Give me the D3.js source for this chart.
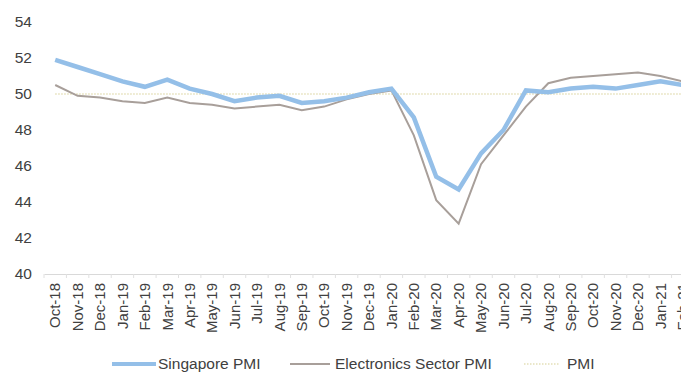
<!DOCTYPE html>
<html>
<head>
<meta charset="utf-8">
<script src="https://cdn.jsdelivr.net/npm/d3@7"></script>
<style>
  body { margin: 0; background: #fff; }
  svg { font-family: "Liberation Sans", Arial, sans-serif; }
</style>
</head>
<body>
<script>
var months = ["Oct-18","Nov-18","Dec-18","Jan-19","Feb-19","Mar-19","Apr-19","May-19","Jun-19","Jul-19",
   "Aug-19","Sep-19","Oct-19","Nov-19","Dec-19","Jan-20","Feb-20","Mar-20","Apr-20","May-20",
   "Jun-20","Jul-20","Aug-20","Sep-20","Oct-20","Nov-20","Dec-20","Jan-21","Feb-21"];

var singaporePmi = [51.9,51.5,51.1,50.7,50.4,50.8,50.3,50.0,49.6,49.8,
   49.9,49.5,49.6,49.8,50.1,50.3,48.7,45.4,44.7,46.7,
   48.0,50.2,50.1,50.3,50.4,50.3,50.5,50.7,50.5];

var electronicsPmi = [50.5,49.9,49.8,49.6,49.5,49.8,49.5,49.4,49.2,49.3,
   49.4,49.1,49.3,49.7,50.0,50.2,47.7,44.1,42.8,46.1,
   47.7,49.3,50.6,50.9,51.0,51.1,51.2,51.0,50.7];

var pmiLevel = 50;
var yTicks = [40,42,44,46,48,50,52,54];

var width = 681, height = 385;
var svg = d3.select("body").append("svg")
   .attr("width", width)
   .attr("height", height);

var x = d3.scaleBand()
   .domain(months)
   .range([44, 694]);

var y = d3.scaleLinear()
   .domain([40, 54])
   .range([274, 22]);

var cx = function(d, i) { return x(months[i]) + x.bandwidth() / 2; };

// y tick labels (no axis line)
svg.append("g").selectAll("text")
   .data(yTicks)
   .enter()
   .append("text")
   .attr("x", 32)
   .attr("y", function(d) { return y(d); })
   .attr("dy", "0.35em")
   .attr("text-anchor", "end")
   .style("font-size", "15.5px")
   .style("fill", "#404040")
   .text(function(d) { return d; });

// x axis
var xAxis = svg.append("g")
   .attr("transform", "translate(0,274)")
   .call(d3.axisBottom(x).tickSize(0).tickPadding(0));
xAxis.select(".domain").attr("stroke", "#d9d9d9");
xAxis.selectAll(".tick text")
   .attr("transform", "rotate(-90)")
   .attr("x", -9)
   .attr("y", 0)
   .attr("dy", "0.35em")
   .attr("text-anchor", "end")
   .style("font-size", "15px")
   .style("font-family", "Liberation Sans, Arial, sans-serif")
   .style("fill", "#404040");

// small tick marks at band edges
svg.append("g").selectAll("line")
   .data(months)
   .enter()
   .append("line")
   .attr("x1", function(d) { return x(d); })
   .attr("x2", function(d) { return x(d); })
   .attr("y1", 274)
   .attr("y2", 278)
   .attr("stroke", "#e0e0e0");

// PMI 50 reference
svg.append("path")
   .datum(months.map(function() { return pmiLevel; }))
   .attr("d", d3.line().x(cx).y(function(d) { return y(d); }))
   .attr("fill", "none")
   .attr("stroke", "#d6cf94")
   .attr("stroke-width", 1.2)
   .attr("stroke-dasharray", "1.5,1.5");

svg.append("path")
   .datum(electronicsPmi)
   .attr("d", d3.line().x(cx).y(function(d) { return y(d); }))
   .attr("fill", "none")
   .attr("stroke", "#a89f9a")
   .attr("stroke-width", 2);

svg.append("path")
   .datum(singaporePmi)
   .attr("d", d3.line().x(cx).y(function(d) { return y(d); }))
   .attr("fill", "none")
   .attr("stroke", "#94bfe8")
   .attr("stroke-width", 4.5);

// legend
var legend = [
   { name: "Singapore PMI", color: "#94bfe8", w: 4, dash: null, x1: 112, x2: 156, tx: 158 },
   { name: "Electronics Sector PMI", color: "#a89f9a", w: 2, dash: null, x1: 290, x2: 330, tx: 335 },
   { name: "PMI", color: "#d6cf94", w: 1.2, dash: "1.5,1.5", x1: 524, x2: 560, tx: 567 }
];

var lg = svg.append("g").selectAll("g")
   .data(legend)
   .enter()
   .append("g");

lg.append("line")
   .attr("x1", function(d) { return d.x1; })
   .attr("x2", function(d) { return d.x2; })
   .attr("y1", 364)
   .attr("y2", 364)
   .attr("stroke", function(d) { return d.color; })
   .attr("stroke-width", function(d) { return d.w; })
   .attr("stroke-dasharray", function(d) { return d.dash; });

lg.append("text")
   .attr("x", function(d) { return d.tx; })
   .attr("y", 364)
   .attr("dy", "0.35em")
   .style("font-size", "15.5px")
   .style("fill", "#404040")
   .text(function(d) { return d.name; });
</script>
</body>
</html>
